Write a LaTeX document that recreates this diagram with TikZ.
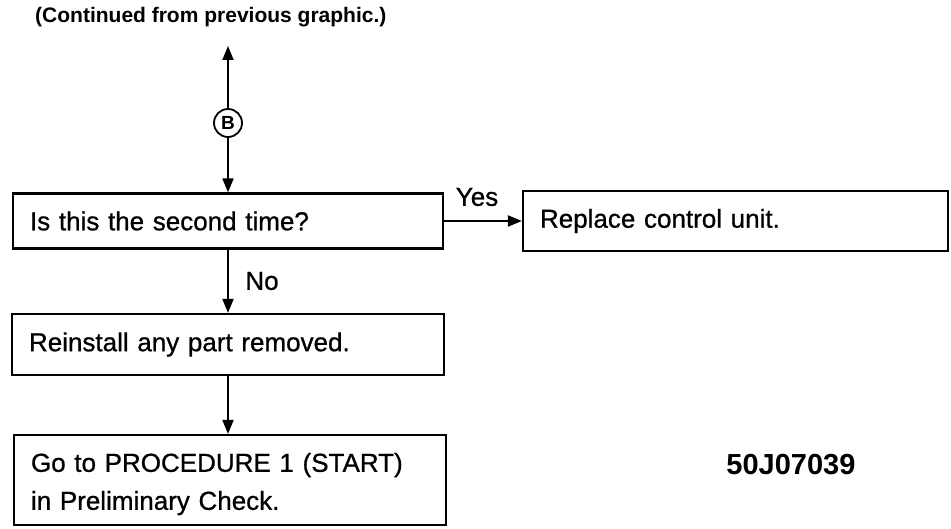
\documentclass[tikz,border=0pt]{standalone}
\usepackage{fontspec}
\setmainfont{Liberation Sans}
\newfontfamily\medsans[FakeBold=0.8]{Liberation Sans}
\usetikzlibrary{arrows.meta}
\begin{document}
\begin{tikzpicture}[x=1pt,y=-1pt,
  box/.style={draw, line width=2.2pt, align=left, inner xsep=17pt, inner ysep=0pt,
    font=\medsans\fontsize{26}{38}\selectfont},
  arr/.style={line width=2pt, -{Triangle[length=14pt,width=11pt]}},
  lbl/.style={font=\medsans\fontsize{26}{30}\selectfont},
  conn/.style={draw, circle, line width=1.8pt, inner sep=0pt, minimum size=28pt,
    font=\fontsize{19}{19}\selectfont\bfseries}]
\useasboundingbox (0,0) rectangle (951,529);
\node[font=\fontsize{21}{24}\selectfont\bfseries, anchor=west, inner sep=0pt] (title) at (35,17) {(Continued from previous graphic.)};
\coordinate (top) at (228,46);
\node[conn] (B) at (228,123) {B};
\node[box, text width=396pt, minimum height=55pt] (q) at (228,221) {Is this the second time?};
\node[box, text width=391pt, minimum height=60pt] (rep) at (735.5,221) {Replace control unit.};
\node[box, text width=398pt, minimum height=61pt] (rei) at (228,344.5) {Reinstall any part removed.};
\node[box, text width=398pt, minimum height=90pt] (go) at (230,480) {\rule{0pt}{27pt}Go to PROCEDURE 1 (START)\\in Preliminary Check.};
\node[font=\fontsize{29}{32}\selectfont\bfseries] (code) at (791,465) {50J07039};
\draw[arr] (B) -- (top);
\draw[arr] (B) -- (q.north);
\draw[arr] (q.east) -- (rep.west);
\node[lbl] (yes) at (477,197) {Yes};
\draw[arr] (q.south) -- (rei.north);
\node[lbl] (no) at (262,281) {No};
\draw[arr] (rei.south) -- (rei.south |- go.north);
\end{tikzpicture}
\end{document}
